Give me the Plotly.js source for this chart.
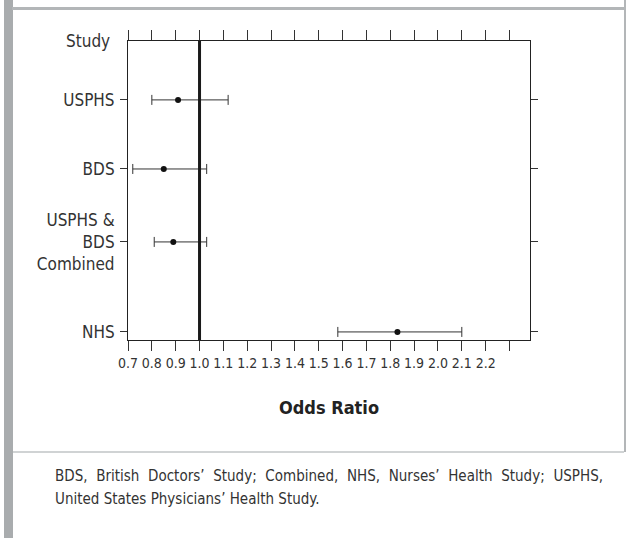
<!DOCTYPE html>
<html>
<head>
<meta charset="utf-8">
<script src="https://cdn.plot.ly/plotly-3.0.1.min.js"></script>
<style>
  html, body { margin:0; padding:0; background:#ffffff; }
  #wrap { position:relative; width:626px; height:538px; overflow:hidden; }
  .deco { position:absolute; }
  #chart { position:absolute; left:0; top:0; width:626px; height:538px; }
  #caption { position:absolute; left:55px; top:465px; width:548px;
    font-family:"Liberation Sans Narrow","DejaVu Sans Condensed","Roboto",sans-serif;
    font-size:15px; line-height:23px; color:#333333; text-align:justify; }
</style>
</head>
<body>
<div id="wrap">
  <div class="deco" style="left:4px;top:0;width:9px;height:538px;background:#a9acae;"></div>
  <div class="deco" style="left:12px;top:7px;width:612px;height:3px;background:#b3b6b8;"></div>
  <div class="deco" style="left:624px;top:0;width:2px;height:452px;background:#b3b6b8;"></div>
  <div class="deco" style="left:13px;top:451px;width:611px;height:2px;background:#d0d3d4;"></div>
  <div id="chart"></div>
  <div id="caption">BDS, British Doctors’ Study; Combined, NHS, Nurses’ Health Study; USPHS, United States Physicians’ Health Study.</div>
</div>
<script>
// ---- data ----
var studies   = ['USPHS', 'BDS', 'USPHS &<br>BDS<br>Combined', 'NHS'];
var rowPos    = [8.03, 5.72, 3.28, 0.27];
var oddsRatio = [0.91, 0.85, 0.89, 1.83];
var ciLow     = [0.80, 0.72, 0.81, 1.58];
var ciHigh    = [1.12, 1.03, 1.03, 2.10];
var xTickVals   = [0.7, 0.8, 0.9, 1.0, 1.1, 1.2, 1.3, 1.4, 1.5, 1.6, 1.7, 1.8, 1.9, 2.0, 2.1, 2.2, 2.3];
var xTickLabels = ['0.7','0.8','0.9','1.0','1.1','1.2','1.3','1.4','1.5','1.6','1.7','1.8','1.9','2.0','2.1','2.2',''];
var topLabel = 'Study';
var xTitle = 'Odds Ratio';
var refValue = 1.0;

var FONT = '"Liberation Sans Narrow","DejaVu Sans Condensed",Roboto,sans-serif';

var plus = oddsRatio.map(function(v, i){ return ciHigh[i] - v; });
var minus = oddsRatio.map(function(v, i){ return v - ciLow[i]; });

var trace = {
  type: 'scatter',
  mode: 'markers',
  x: oddsRatio,
  y: rowPos,
  marker: { color: '#111111', size: 6 },
  error_x: { type: 'data', symmetric: false, array: plus, arrayminus: minus,
             color: '#333333', thickness: 1, width: 5 },
  showlegend: false,
  hoverinfo: 'x'
};

var layout = {
  width: 626, height: 538,
  margin: { l: 128, r: 96, t: 41, b: 198 },
  paper_bgcolor: 'rgba(0,0,0,0)',
  plot_bgcolor: 'rgba(0,0,0,0)',
  font: { family: FONT, color: '#333333' },
  xaxis: {
    range: [0.7, 2.386],
    tickmode: 'array', tickvals: xTickVals, ticktext: xTickLabels,
    ticks: 'outside', ticklen: 10, tickwidth: 1, tickcolor: '#333333',
    showline: true, linecolor: '#222222', linewidth: 1, mirror: 'ticks',
    showgrid: false, zeroline: false,
    tickfont: { size: 14, color: '#333333', family: FONT },
    title: { text: '<b>' + xTitle + '</b>', standoff: 31,
             font: { size: 18, color: '#222222', family: FONT } },
    automargin: false, fixedrange: true
  },
  yaxis: {
    range: [0, 10],
    tickmode: 'array', tickvals: rowPos, ticktext: studies,
    ticks: 'outside', ticklen: 7, tickwidth: 1, tickcolor: '#333333',
    showline: true, linecolor: '#222222', linewidth: 1, mirror: 'ticks',
    showgrid: false, zeroline: false,
    tickfont: { size: 17, color: '#333333', family: FONT },
    ticklabelstandoff: 2,
    automargin: false, fixedrange: true
  },
  shapes: [{
    type: 'line', xref: 'x', yref: 'paper', x0: refValue, x1: refValue, y0: 0, y1: 1,
    line: { color: '#1a1a1a', width: 3 }, layer: 'above'
  }],
  annotations: [{
    text: topLabel, xref: 'paper', yref: 'paper', x: 0, y: 1,
    xanchor: 'right', yanchor: 'middle', xshift: -16, showarrow: false,
    font: { size: 17, color: '#333333', family: FONT }
  }]
};

Plotly.newPlot('chart', [trace], layout, { displayModeBar: false, staticPlot: true });
</script>
</body>
</html>
